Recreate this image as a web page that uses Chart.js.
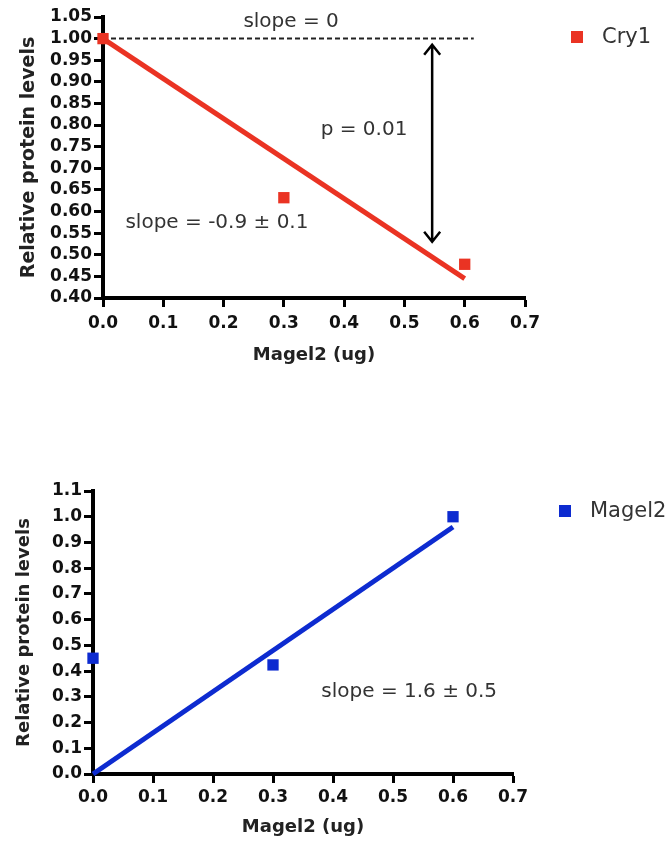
<!DOCTYPE html>
<html>
<head>
<meta charset="utf-8">
<script src="https://cdn.jsdelivr.net/npm/chart.js@4"></script>
<style>
html, body { margin: 0; padding: 0; background: #fff; width: 666px; height: 844px; overflow: hidden; }
canvas { position: absolute; left: 0; }
#cry1Chart { top: 0; }
#magel2Chart { top: 470px; }
</style>
</head>
<body>
<canvas id="cry1Chart" width="666" height="370"></canvas>
<canvas id="magel2Chart" width="666" height="374"></canvas>
<script>
// doses (ug of Magel2) and measured levels
const xDose = [0, 0.3, 0.6]
const cry1Levels = [1.00, 0.632, 0.478]
const magel2Levels = [0.45, 0.424, 1.00]

// linear fits
const cry1FitX = [0, 0.6]
const cry1FitY = [1.00, 0.445]
const magel2FitX = [0, 0.6]
const magel2FitY = [0, 0.96]

// reference line, slope = 0
const zeroSlopeX = [0, 0.615]
const zeroSlopeY = [1.00, 1.00]

// tick labels
const xTicks = [0, 0.1, 0.2, 0.3, 0.4, 0.5, 0.6, 0.7]
const cry1YTicks = [0.40, 0.45, 0.50, 0.55, 0.60, 0.65, 0.70, 0.75, 0.80, 0.85, 0.90, 0.95, 1.00, 1.05]
const magel2YTicks = [0, 0.1, 0.2, 0.3, 0.4, 0.5, 0.6, 0.7, 0.8, 0.9, 1.0, 1.1]

Chart.defaults.font.family = '"DejaVu Sans", sans-serif'

const toPoints = (xs, ys) => xs.map((x, i) => ({x, y: ys[i]}))

// legend, text notes and the double arrow
const marks = {
    id: 'marks',
    afterDatasetsDraw(chart, args, opts){
        const {ctx, chartArea, scales: {x, y}} = chart
        ctx.save()

        ;(opts.arrows || []).forEach(a => {
            const px = x.getPixelForValue(a.x)
            const y1 = y.getPixelForValue(a.from)
            const y2 = y.getPixelForValue(a.to)
            ctx.strokeStyle = '#000'
            ctx.lineWidth = 2.5
            ctx.beginPath()
            ctx.moveTo(px, y1); ctx.lineTo(px, y2)
            ctx.moveTo(px - 8, y1 + 10); ctx.lineTo(px, y1); ctx.lineTo(px + 8, y1 + 10)
            ctx.moveTo(px - 8, y2 - 10); ctx.lineTo(px, y2); ctx.lineTo(px + 8, y2 - 10)
            ctx.stroke()
        })

        ctx.fillStyle = '#333'
        ctx.font = '20px "DejaVu Sans"'
        ctx.textAlign = 'center'
        ctx.textBaseline = 'middle'
        ;(opts.notes || []).forEach(n =>
            ctx.fillText(n.text, x.getPixelForValue(n.x), y.getPixelForValue(n.y))
        )

        const ds = chart.data.datasets[0]
        const cx = chartArea.right + 52, cy = chartArea.top + 20
        ctx.fillStyle = ds.backgroundColor
        ctx.fillRect(cx - 6, cy - 6, 12, 12)
        ctx.fillStyle = '#333'
        ctx.font = '21px "DejaVu Sans"'
        ctx.textAlign = 'left'
        ctx.fillText(ds.label, cx + 25, cy + 1)

        ctx.restore()
    }
}

function panel(id, o){
    return new Chart(document.getElementById(id), {
        type: 'scatter',
        data: {
            datasets: [
                {
                    label: o.name,
                    data: toPoints(xDose, o.levels),
                    backgroundColor: o.color,
                    borderColor: o.color,
                    borderWidth: 0,
                    pointStyle: 'rect',
                    pointRadius: 8,
                    pointHoverRadius: 8,
                    clip: false,
                    order: 0
                },
                {
                    label: 'fit',
                    data: toPoints(o.fitX, o.fitY),
                    showLine: true,
                    borderColor: o.color,
                    borderWidth: 5,
                    pointRadius: 0,
                    clip: false,
                    order: 1
                },
                ...o.extra
            ]
        },
        options: {
            responsive: false,
            animation: false,
            events: [],
            layout: { padding: o.pad },
            plugins: {
                legend: { display: false },
                tooltip: { enabled: false },
                marks: { notes: o.notes, arrows: o.arrows }
            },
            scales: {
                x: {
                    type: 'linear',
                    min: xTicks[0],
                    max: xTicks[xTicks.length - 1],
                    afterBuildTicks: s => { s.ticks = xTicks.map(v => ({value: v})) },
                    afterFit: s => { s.height = o.xAxisH },
                    grid: { drawOnChartArea: false, tickLength: 9, tickWidth: 3, tickColor: '#000' },
                    border: { color: '#000', width: 4 },
                    ticks: {
                        color: '#111',
                        font: { size: 17, weight: 'bold' },
                        padding: o.xTickPad,
                        maxRotation: 0,
                        autoSkip: false,
                        callback: v => v.toFixed(1)
                    },
                    title: {
                        display: true,
                        text: 'Magel2 (ug)',
                        color: '#222',
                        font: { size: 18, weight: 'bold' },
                        padding: { top: 0, bottom: 2 }
                    }
                },
                y: {
                    type: 'linear',
                    min: o.yTicks[0],
                    max: o.yTicks[o.yTicks.length - 1],
                    afterBuildTicks: s => { s.ticks = o.yTicks.map(v => ({value: v})) },
                    afterFit: s => { s.width = o.yAxisW },
                    grid: { drawOnChartArea: false, tickLength: 9, tickWidth: 3, tickColor: '#000' },
                    border: { color: '#000', width: 4 },
                    ticks: {
                        color: '#111',
                        font: { size: 17, weight: 'bold' },
                        padding: 2,
                        autoSkip: false,
                        callback: v => v.toFixed(o.yDigits)
                    },
                    title: {
                        display: true,
                        text: 'Relative protein levels',
                        color: '#222',
                        font: { size: o.yTitleSize, weight: 'bold' },
                        padding: { top: o.yTitlePad, bottom: 0 }
                    }
                }
            }
        },
        plugins: [marks]
    })
}

panel('cry1Chart', {
    name: 'Cry1',
    color: '#ea3323',
    levels: cry1Levels,
    fitX: cry1FitX,
    fitY: cry1FitY,
    yTicks: cry1YTicks,
    yDigits: 2,
    yAxisW: 103,
    xAxisH: 70,
    xTickPad: 6,
    yTitleSize: 19,
    yTitlePad: 18,
    pad: { left: 0, right: 141, top: 17, bottom: 2 },
    extra: [{
        label: 'slope = 0',
        data: toPoints(zeroSlopeX, zeroSlopeY),
        showLine: true,
        borderColor: '#222',
        borderWidth: 2,
        borderDash: [5, 3],
        pointRadius: 0,
        clip: false,
        order: 2
    }],
    notes: [
        { text: 'slope = 0', x: 0.312, y: 1.039 },
        { text: 'p = 0.01', x: 0.433, y: 0.789 },
        { text: 'slope = -0.9 ± 0.1', x: 0.189, y: 0.574 }
    ],
    arrows: [{ x: 0.546, from: 0.986, to: 0.53 }]
})

panel('magel2Chart', {
    name: 'Magel2',
    color: '#0d2bd0',
    levels: magel2Levels,
    fitX: magel2FitX,
    fitY: magel2FitY,
    yTicks: magel2YTicks,
    yDigits: 1,
    yAxisW: 93,
    xAxisH: 66,
    xTickPad: 4,
    yTitleSize: 18,
    yTitlePad: 14,
    pad: { left: 0, right: 153, top: 21, bottom: 4 },
    extra: [],
    notes: [
        { text: 'slope = 1.6 ± 0.5', x: 0.527, y: 0.319 }
    ],
    arrows: []
})
</script>
</body>
</html>
